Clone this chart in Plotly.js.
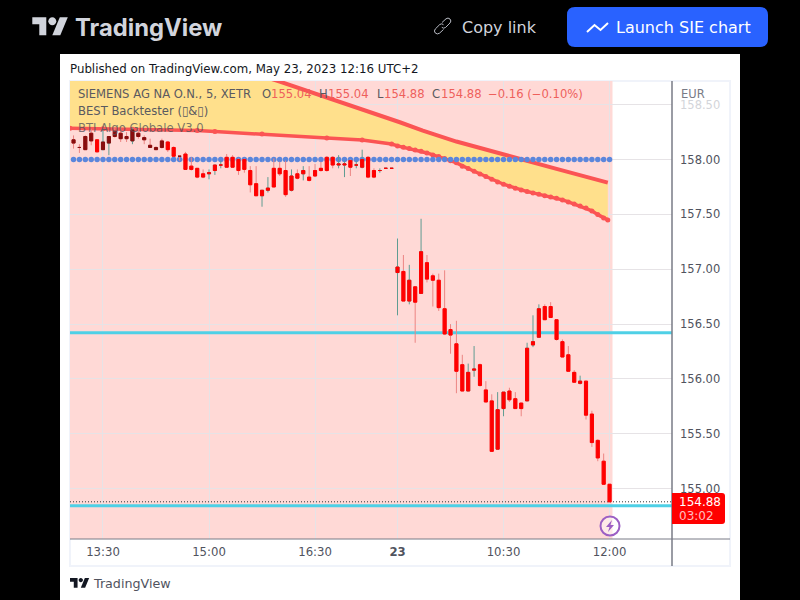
<!DOCTYPE html>
<html><head><meta charset="utf-8">
<script src="https://cdn.plot.ly/plotly-3.0.1.min.js"></script>
<style>html,body{margin:0;padding:0;background:#000}#c{width:800px;height:600px}</style>
</head><body><div id="c"></div>
<script>
const barIndex=[-5,-4,-3,-2,-1,0,1,2,3,4,5,6,7,8,9,10,11,12,13,14,15,16,17,18,19,20,21,22,23,24,25,26,27,28,29,30,31,32,33,34,35,36,37,38,39,40,41,42,43,44,45,46,47,48,49,50,51,52,53,54,55,56,57,58,59,60,61,62,63,64,65,66,67,68,69,70,71,72,73,74,75,76,77,78,79,80,81,82,83,84,85,86];
const openPrices=[158.18,158.11,158.21,158.24,158.18,158.09,158.15,158.26,158.24,158.21,158.17,158.24,158.20,158.13,158.11,158.17,158.16,158.11,158.03,158.05,157.94,157.92,157.87,157.87,157.90,157.95,158.02,158.02,158.00,158.00,157.90,157.78,157.67,157.72,157.92,157.92,157.90,157.72,157.87,157.87,157.84,157.90,157.92,158.02,158.02,157.95,157.95,157.99,157.95,157.93,158.02,157.90,157.90,157.92,157.92,156.97,156.98,156.71,156.84,156.78,157.06,156.94,156.90,156.64,156.45,156.32,156.13,155.89,156.08,156.13,155.90,155.80,155.36,155.73,155.89,155.82,155.78,155.80,156.31,156.38,156.66,156.66,156.54,156.34,156.22,156.06,155.96,155.98,155.68,155.44,155.25,155.04];
const highPrices=[158.22,158.14,158.22,158.28,158.18,158.28,158.21,158.29,158.29,158.25,158.29,158.28,158.22,158.19,158.12,158.19,158.17,158.12,158.03,158.07,158.02,157.92,157.91,157.91,157.95,157.99,158.05,158.04,158.01,158.01,157.94,157.94,157.72,157.84,158.01,157.98,157.99,157.91,157.91,157.94,157.94,157.96,157.98,158.03,158.03,158.04,157.99,158.00,157.99,158.09,158.03,157.92,157.92,157.92,157.92,157.28,157.13,157.04,156.84,157.46,157.13,156.96,156.96,156.99,156.50,156.53,156.22,156.14,156.30,156.14,155.98,155.86,155.88,155.88,155.92,155.88,155.78,156.33,156.58,156.68,156.68,156.70,156.54,156.36,156.30,156.08,156.03,155.98,155.71,155.45,155.32,155.04];
const lowPrices=[158.10,158.06,158.09,158.13,158.07,158.09,158.04,158.20,158.16,158.16,158.14,158.19,158.14,158.11,158.09,158.10,158.07,158.03,157.99,157.91,157.90,157.83,157.83,157.82,157.86,157.92,157.93,157.93,157.86,157.88,157.70,157.67,157.57,157.70,157.75,157.85,157.66,157.71,157.82,157.81,157.80,157.84,157.89,157.89,157.92,157.92,157.84,157.85,157.92,157.92,157.83,157.83,157.88,157.92,157.92,156.58,156.71,156.68,156.33,156.78,156.88,156.66,156.62,156.40,156.23,155.87,155.89,155.89,156.02,155.93,155.79,155.34,155.36,155.66,155.79,155.73,155.66,155.80,156.29,156.38,156.54,156.56,156.35,156.20,156.07,155.97,155.95,155.63,155.38,155.25,155.04,154.88];
const closePrices=[158.15,158.11,158.09,158.17,158.07,158.16,158.21,158.21,158.19,158.19,158.27,158.21,158.18,158.11,158.09,158.11,158.09,158.03,158.03,157.91,157.91,157.84,157.84,157.88,157.95,157.95,157.93,157.93,157.90,157.91,157.77,157.67,157.72,157.74,157.75,157.87,157.68,157.85,157.83,157.90,157.81,157.85,157.90,157.90,157.95,157.96,157.96,157.93,157.95,158.00,157.84,157.84,157.90,157.92,157.92,157.02,156.71,156.90,156.70,157.16,156.91,156.90,156.65,156.41,156.40,156.07,155.89,156.06,156.09,155.94,155.79,155.34,155.72,155.88,155.81,155.73,155.73,156.28,156.34,156.64,156.54,156.56,156.36,156.20,156.07,155.97,155.98,155.67,155.42,155.28,155.04,154.88];
const darkBars=[-5,-4,-3,-2,0,1,2,3,4,5,6,7,8,9,10,13];

const lowerBandX=[-5.6,0,5,16,19,27,38,44,49,50,51,52,53,54,55,56,57,58,59,60,61,62,63,64,65,66,67,68,69,70,71,72,73,74,75,76,77,78,79,80,81,82,83,84,85,85.7];
const lowerBandY=[158.285,158.28,158.276,158.264,158.255,158.234,158.197,158.179,158.142,158.124,158.112,158.10,158.088,158.076,158.06,158.042,158.027,158.009,157.99,157.97,157.94,157.918,157.893,157.869,157.845,157.82,157.796,157.775,157.757,157.738,157.723,157.708,157.696,157.684,157.671,157.659,157.647,157.632,157.614,157.595,157.577,157.559,157.532,157.498,157.468,157.45];
const upperBandX=[-5.6,10,20,30,50.4,54.3,60,68,71.3,77,85.7];
const upperBandY=[159.25,159.05,158.88,158.711,158.34,158.264,158.164,158.05,158.005,157.915,157.79];

const pivotLevel=158.00;
const supportLevels=[156.42,154.845];
const lastPrice=154.88;
const priceTicks=[155,155.5,156,156.5,157,157.5,158,158.5];
const priceLabels=['155.00','155.50','156.00','156.50','157.00','157.50','158.00','<span style="color:#d3d5da">158.50</span>'];
const timeTicks=[0,18,36,50,68,86];
const timeLabels=['13:30','15:00','16:30','<b>23</b>','10:30','12:00'];

const F='DejaVu Sans';
const px=x=>x/800, py=y=>1-y/600;
const P=(cmds)=>cmds.replace(/(-?[\d.]+),(-?[\d.]+)/g,(m,a,b)=>px(+a).toFixed(5)+','+py(+b).toFixed(5));
function rect(x0,y0,x1,y1,fill,layer,line){return {type:'rect',xref:'paper',yref:'paper',x0:px(x0),x1:px(x1),y0:py(y0),y1:py(y1),fillcolor:fill,line:line||{width:0},layer:layer||'below'};}
function path(d,fill,line,layer){return {type:'path',xref:'paper',yref:'paper',path:P(d),fillcolor:fill||'rgba(0,0,0,0)',line:line||{width:0},layer:layer||'above'};}
function seg(x0,y0,x1,y1,color,w,layer){return {type:'line',xref:'paper',yref:'paper',x0:px(x0),x1:px(x1),y0:py(y0),y1:py(y1),line:{color:color,width:w},layer:layer||'above'};}
function txt(x,y,text,size,color,o){return Object.assign({xref:'paper',yref:'paper',x:px(x-1),y:py(y),text:text,showarrow:false,xanchor:'left',yanchor:'middle',borderpad:0,font:{family:F,size:size,color:color}},o||{});}
function tvLogo(x0,y0,s,c){
  const X=v=>x0+v*s,Y=v=>y0+v*s;
  const a=`M${X(14)},${Y(22)} L${X(7)},${Y(22)} L${X(7)},${Y(11)} L${X(0)},${Y(11)} L${X(0)},${Y(4)} L${X(14)},${Y(4)} Z`;
  const b=`M${X(28)},${Y(22)} L${X(20)},${Y(22)} L${X(27.5)},${Y(4)} L${X(35.5)},${Y(4)} Z`;
  const k=4*0.5523;
  const d=`M${X(16)},${Y(8)} C${X(16)},${Y(8-k)} ${X(20-k)},${Y(4)} ${X(20)},${Y(4)} C${X(20+k)},${Y(4)} ${X(24)},${Y(8-k)} ${X(24)},${Y(8)} C${X(24)},${Y(8+k)} ${X(20+k)},${Y(12)} ${X(20)},${Y(12)} C${X(20-k)},${Y(12)} ${X(16)},${Y(8+k)} ${X(16)},${Y(8)} Z`;
  return [path(a,c),path(b,c),path(d,c)];
}

const xRange=[-5.6,96.6];
const isDark=barIndex.map(i=>darkBars.includes(i));
function bodies(pick,color){
  const id=barIndex.map((v,k)=>k).filter(pick);
  const hi=id.map(k=>Math.max(openPrices[k],closePrices[k]));
  const lo=id.map(k=>Math.min(openPrices[k],closePrices[k]));
  return {type:'candlestick',x:id.map(k=>barIndex[k]),open:id.map(k=>openPrices[k]),high:hi,low:lo,close:id.map(k=>closePrices[k]),
    increasing:{line:{color:color,width:1},fillcolor:color},decreasing:{line:{color:color,width:1},fillcolor:color},hoverinfo:'skip'};
}
const traces=[
 {type:'scatter',mode:'lines+markers',x:lowerBandX,y:lowerBandY,line:{color:'#fb5454',width:3.5},marker:{color:'#fb5454',size:5},zorder:-2,hoverinfo:'skip'},
 {type:'scatter',mode:'lines',x:upperBandX,y:upperBandY,line:{color:'#fb5454',width:4},fill:'tonexty',fillcolor:'#ffe08c',zorder:-2,hoverinfo:'skip'},
 {type:'scatter',mode:'markers',x:barIndex,y:barIndex.map(()=>pivotLevel),marker:{color:'#5b86dc',size:5.5},zorder:-1,hoverinfo:'skip'},
 {type:'scatter',mode:'lines',x:xRange,y:[supportLevels[0],supportLevels[0]],line:{color:'#4fd0e6',width:3},zorder:-1,hoverinfo:'skip'},
 {type:'scatter',mode:'lines',x:xRange,y:[supportLevels[1],supportLevels[1]],line:{color:'#4fd0e6',width:3},zorder:-1,hoverinfo:'skip'},
 {type:'scatter',mode:'lines',x:xRange,y:[lastPrice,lastPrice],line:{color:'#333',width:1,dash:'1px,2px'},zorder:-1,hoverinfo:'skip'},
 {type:'candlestick',x:barIndex,open:openPrices,high:highPrices,low:lowPrices,close:closePrices,
  increasing:{line:{color:'#5f9c92',width:1},fillcolor:'#5f9c92'},decreasing:{line:{color:'#ec8583',width:1},fillcolor:'#ec8583'},hoverinfo:'skip'},
 bodies(k=>!isDark[k],'#ff0000'),
 bodies(k=>isDark[k],'#880e0e')
];
const lc='#d1d4dc';
const shapes=[
 rect(60,54,740,600,'#ffffff'),
 rect(70,81,730,566,'#ffffff','below',{color:'#f0f3fa',width:2}),
 rect(70,81,612.5,539,'#ffd9d6'),
 seg(672,81,672,566,'#787b86',1.5),
 seg(70,539,730,539,'#787b86',1),
 path('M575,7 L760,7 Q768,7 768,15 L768,39 Q768,47 760,47 L575,47 Q567,47 567,39 L567,15 Q567,7 575,7 Z','#2962ff'),
 path('M587,32 L594.5,25 L600.5,30 L608,23',null,{color:'#ffffff',width:2}),
 path('M442,22.5 L446,18.8 Q448,17.2 450,19 Q451.8,21 450,23 L445.5,27.5 Q443.5,29 441.8,27.3',null,{color:'#b8bbc4',width:1}),
 path('M443.5,29.5 L439.5,33.2 Q437.2,34.8 435.3,33 Q433.5,31 435.3,29 L439.8,24.5 Q441.8,23 443.5,24.7',null,{color:'#b8bbc4',width:1}),
 {type:'circle',xref:'paper',yref:'paper',x0:px(600.5),x1:px(619.5),y0:py(516.5),y1:py(535.5),line:{color:'#9c5fc4',width:2},fillcolor:'rgba(255,255,255,0.45)',layer:'above'},
 path('M612,520 L606,527 L609.5,527 L608,532 L614,525 L610.5,525 Z','#9c5fc4'),
 path('M672,493 L722,493 Q725,493 725,496 L725,521 Q725,524 722,524 L672,524 Z','#ff0000')
].concat(tvLogo(32.3,13.3,1,lc)).concat(tvLogo(70,575.8,0.54,'#131722'));

const lg='#5a5a60', lv='#ee5f5b', ls=11.6;
const annotations=[
 txt(75,27,'TradingView',23.8,lc,{font:{family:'Inter',size:23.8,color:lc,weight:700}}),
 txt(462,27,'Copy link',16,lc),
 txt(616,27,'Launch SIE chart',16,'#ffffff'),
 txt(70,69,'Published on TradingView.com, May 23, 2023 12:16 UTC+2',11.8,'#131722'),
 txt(78,94,'SIEMENS AG NA O.N., 5, XETR',ls,lg),
 txt(262,94,'O',ls,lg), txt(271,94,'155.04',ls,lv),
 txt(319,94,'H',ls,lg), txt(328,94,'155.04',ls,lv),
 txt(377,94,'L',ls,lg), txt(384,94,'154.88',ls,lv),
 txt(432,94,'C',ls,lg), txt(441,94,'154.88',ls,lv),
 txt(488,94,'−0.16 (−0.10%)',ls,lv),
 txt(78,111,'BEST Backtester (▯&▯)',ls,lg),
 txt(78,128,'BTI Algo Globale V3.0',ls,'rgba(80,80,90,0.75)'),
 txt(681,94,'EUR',11.5,'#787b86'),
 txt(679,502,'154.88',12,'#ffffff'),
 txt(679,515.5,'03:02',12,'rgba(255,255,255,0.75)'),
 txt(93,583,'TradingView',12.7,'#50535e')
];
const layout={
 width:800,height:600,margin:{l:0,r:0,t:0,b:0,autoexpand:false},paper_bgcolor:'#000000',plot_bgcolor:'rgba(0,0,0,0)',
 showlegend:false,boxmode:'overlay',boxgap:0.25,
 xaxis:{domain:[px(70),px(672)],range:xRange,rangeslider:{visible:false},tickmode:'array',tickvals:timeTicks,ticktext:timeLabels,
  tickfont:{family:F,size:11.7,color:'#50535e'},ticks:'',showgrid:true,gridcolor:'#e6e3e6',gridwidth:1,zeroline:false,showline:false,fixedrange:true,automargin:false,ticklabelstandoff:4},
 yaxis:{domain:[py(539),py(81)],range:[154.541,158.716],side:'right',tickmode:'array',tickvals:priceTicks,ticktext:priceLabels,
  tickfont:{family:F,size:11.5,color:'#50535e'},ticks:'',showgrid:true,gridcolor:'#e6e3e6',gridwidth:1,zeroline:false,showline:false,fixedrange:true,automargin:false,ticklabelstandoff:7},
 shapes:shapes,annotations:annotations
};
Plotly.newPlot('c',traces,layout,{displayModeBar:false,responsive:false});
</script></body></html>
